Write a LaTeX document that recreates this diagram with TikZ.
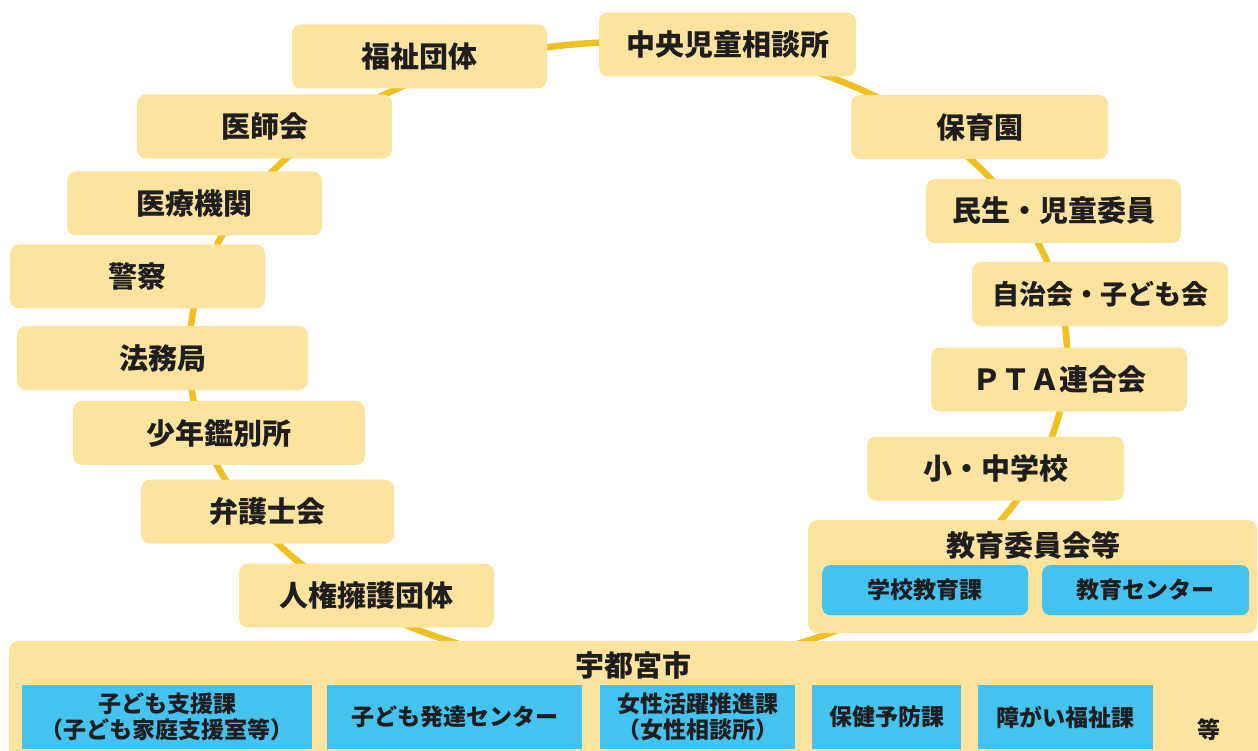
\documentclass[tikz,border=0pt]{standalone}
\usepackage{fontspec}
\setmainfont{Noto Sans CJK JP}
\definecolor{boxy}{HTML}{FCE39E}
\definecolor{goldline}{HTML}{F0C020}
\definecolor{bluebox}{HTML}{45C3F0}
\definecolor{ink}{HTML}{1E1E1E}
\begin{document}
\begin{tikzpicture}[x=1pt,y=-1pt,
  ybox/.style={fill=boxy, rounded corners=9pt, inner sep=0pt, minimum height=64pt, minimum width=255pt, text=ink, font=\bfseries\fontsize{29}{32}\selectfont},
  ycont/.style={fill=boxy, rounded corners=9pt, inner sep=0pt, anchor=north west},
  ttl/.style={text=ink, inner sep=0pt, font=\bfseries\fontsize{29}{32}\selectfont},
  bbox/.style={fill=bluebox, inner sep=0pt, anchor=north west, text=ink, align=center, font=\bfseries\fontsize{23}{26}\selectfont},
  ring/.style={draw=goldline, line width=6.5pt}]
\clip (0,0) rectangle (1258,751);
\useasboundingbox (0,0) rectangle (1258,751);
% ring behind the boxes
\coordinate (ringcenter) at (628,355);
\draw[ring] (ringcenter) ellipse [x radius=439pt, y radius=313pt];
% left side
\node[ybox] (fukushi) at (419.5,56.5) {福祉団体};
\node[ybox, minimum width=257pt] (chuo) at (727.5,44.5) {中央児童相談所};
\node[ybox] (ishikai) at (264.5,126.5) {医師会};
\node[ybox] (iryo) at (194.5,203.5) {医療機関};
\node[ybox] (keisatsu) at (137.5,276.5) {警察};
\node[ybox, minimum width=291pt] (homu) at (162.5,358) {法務局};
\node[ybox, minimum width=292pt] (shonen) at (219,433) {少年鑑別所};
\node[ybox, minimum width=253pt] (bengo) at (267.5,511.5) {弁護士会};
\node[ybox] (jinken) at (366.5,595.5) {人権擁護団体};
% right side
\node[ybox, minimum width=257pt] (hoiku) at (979.5,127) {保育園};
\node[ybox] (minsei) at (1053.5,211) {民生・児童委員};
\node[ybox, minimum width=256pt, font=\bfseries\fontsize{27}{30}\selectfont] (jichi) at (1100,294) {自治会・子ども会};
\node[ybox, minimum width=256pt] (pta) at (1059,379.5) {ＰＴＡ連合会};
\node[ybox, minimum width=257pt] (school) at (995.5,468.5) {小・中学校};
% board of education
\node[ycont, minimum width=449pt, minimum height=113pt] (edu) at (808,520) {};
\node[ttl] (edutitle) at (1033,545) {教育委員会等};
\node[bbox, rounded corners=8pt, minimum width=206pt, minimum height=50pt] (gakko) at (822,565) {学校教育課};
\node[bbox, rounded corners=8pt, minimum width=207pt, minimum height=50pt] (kcenter) at (1042,565) {教育センター};
% city
\node[ycont, minimum width=1270pt, minimum height=130pt] (city) at (9,641) {};
\node[ttl] (citytitle) at (633,665) {宇都宮市};
\node[bbox, minimum width=290pt, minimum height=64pt] (kodomo) at (22,685) {子ども支援課\\（子ども家庭支援室等）};
\node[bbox, minimum width=255pt, minimum height=64pt] (hattatsu) at (327,685) {子ども発達センター};
\node[bbox, minimum width=195pt, minimum height=64pt] (josei) at (600,685) {女性活躍推進課\\（女性相談所）};
\node[bbox, minimum width=149pt, minimum height=64pt] (hoken) at (812,685) {保健予防課};
\node[bbox, minimum width=175pt, minimum height=64pt] (shogai) at (978,685) {障がい福祉課};
\node[ttl, font=\bfseries\fontsize{23}{26}\selectfont] (etc) at (1209,730) {等};
\end{tikzpicture}
\end{document}
